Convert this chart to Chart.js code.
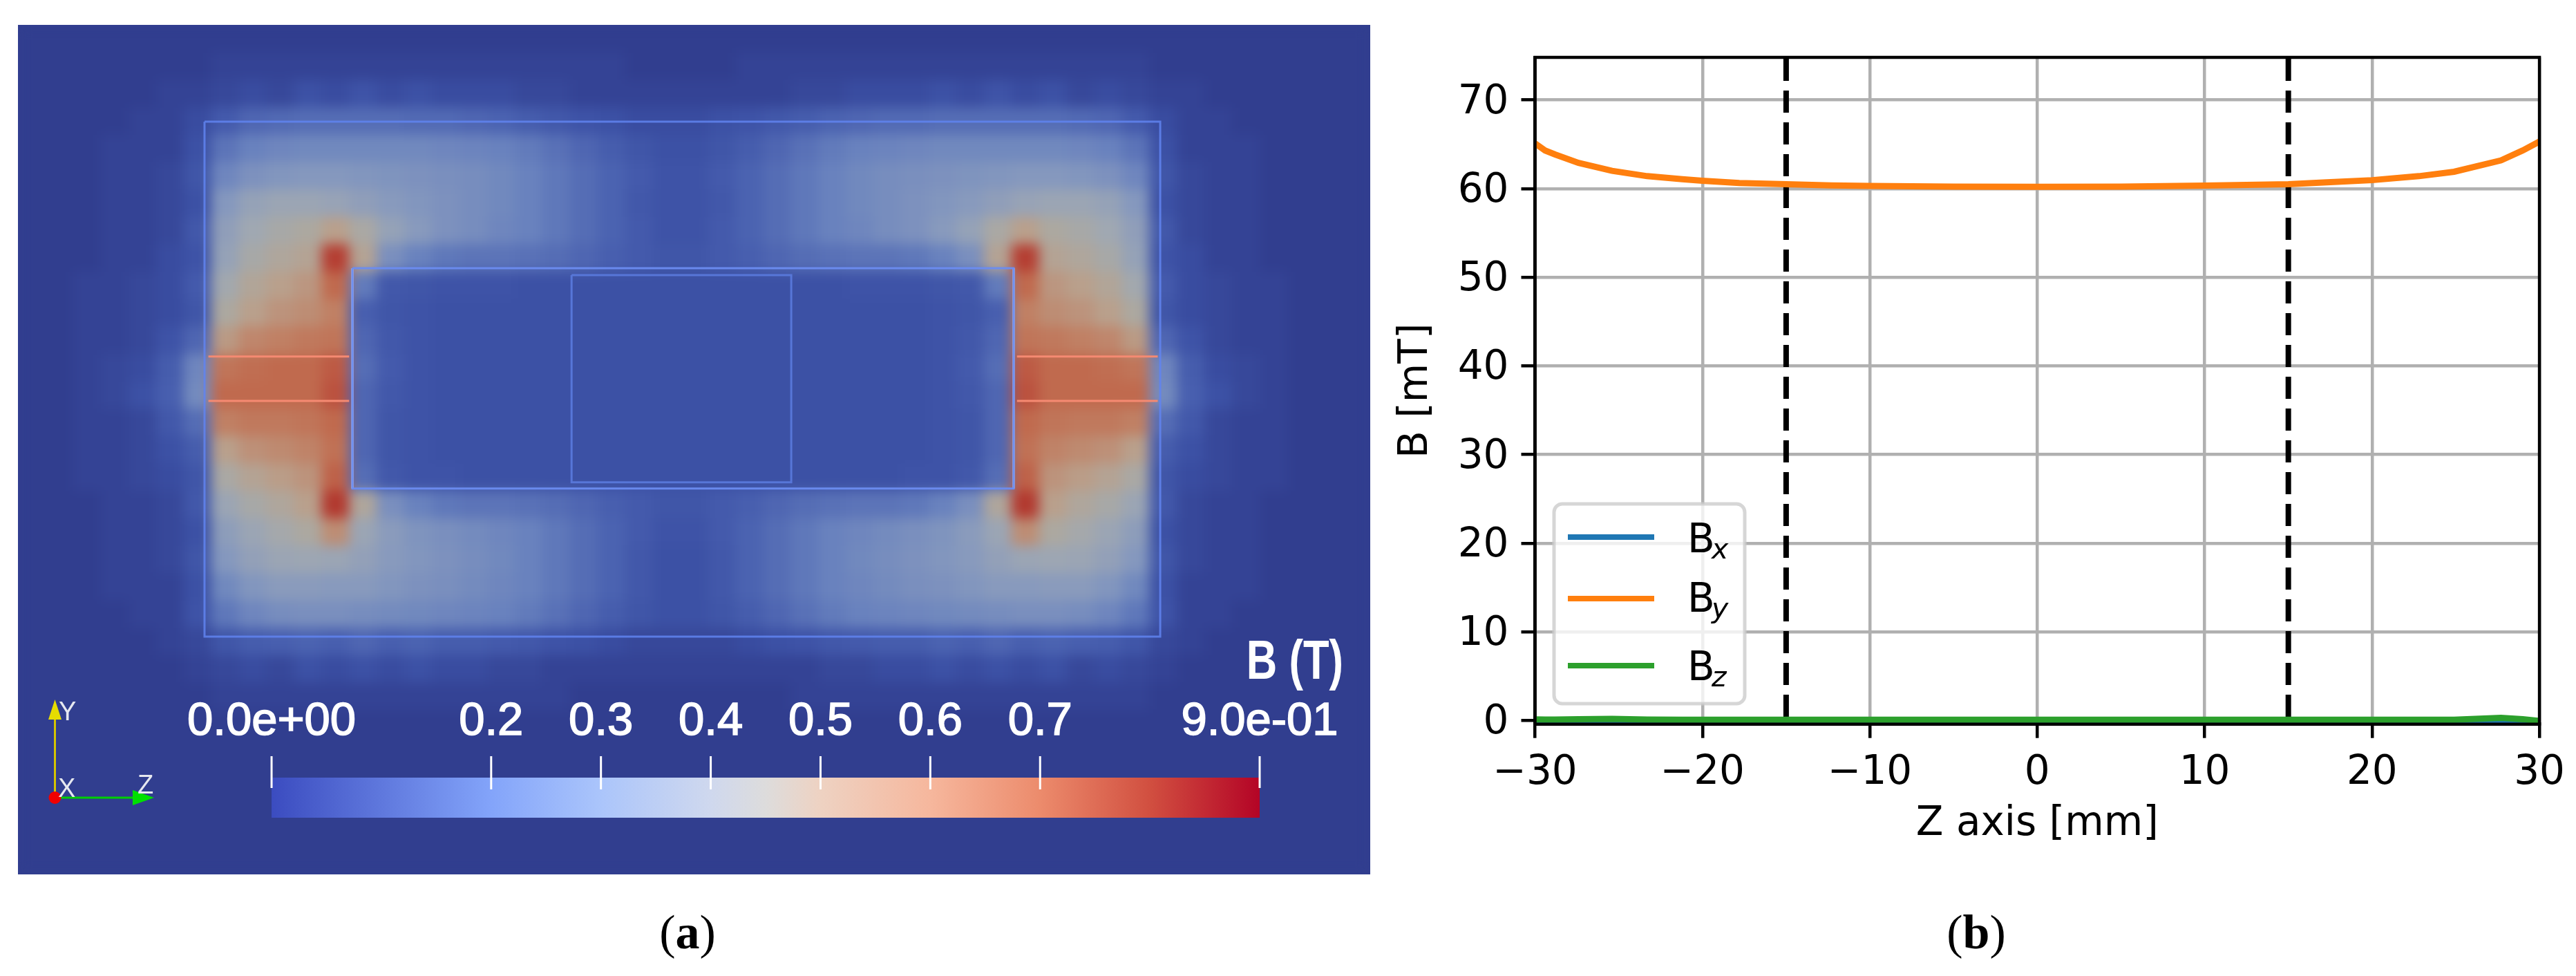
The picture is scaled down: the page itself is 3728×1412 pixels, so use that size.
<!DOCTYPE html>
<html>
<head>
<meta charset="utf-8">
<script src="https://cdn.jsdelivr.net/npm/chart.js@4"></script>
<style>
  html, body { margin: 0; padding: 0; background: #fff; width: 3728px; height: 1412px; overflow: hidden; }
  canvas { position: absolute; }
  #chartField { left: 26px; top: 36px; }
  #chartB { left: 2000px; top: 0; }
  .caption { position: absolute; top: 1309px; font: 70px "Liberation Serif", serif; color: #000; transform: translateX(-50%); }
  .caption b { font-weight: bold; }
</style>
</head>
<body>
<canvas id="chartField" width="1957" height="1229"></canvas>
<canvas id="chartB" width="1728" height="1240"></canvas>
<div class="caption" style="left:995px">(<b>a</b>)</div>
<div class="caption" style="left:2860px">(<b>b</b>)</div>

<script>
// --- panel (b) values ---
const zAxis = [-30, -29.4, -28.8, -27.4, -25.4, -23.3, -21.2, -20, -17.8, -15, -12.3, -10, -5, 0, 5, 10, 15, 17.3, 20, 22.8, 24.9, 27.7, 29, 30];
const byValues = [65.1, 64.3, 63.85, 62.9, 62.0, 61.4, 61.06, 60.88, 60.62, 60.5, 60.36, 60.3, 60.22, 60.2, 60.22, 60.34, 60.5, 60.7, 60.95, 61.4, 61.9, 63.18, 64.3, 65.3];
const bxValues = [-0.15, -0.15, -0.15, -0.15, -0.15, -0.15, -0.15, -0.15, -0.15, -0.15, -0.15, -0.15, -0.15, -0.15, -0.15, -0.15, -0.15, -0.15, -0.15, -0.15, -0.15, -0.15, -0.2, -0.25];
const bzValues = [0.12, 0.1, 0.1, 0.14, 0.18, 0.1, 0.08, 0.08, 0.08, 0.08, 0.08, 0.08, 0.08, 0.08, 0.08, 0.08, 0.08, 0.08, 0.08, 0.08, 0.08, 0.3, 0.15, -0.05];
const xTicks = [-30, -20, -10, 0, 10, 20, 30];
const yTicks = [0, 10, 20, 30, 40, 50, 60, 70];
const dashedZ = [-15, 15];
const seriesSubs = ['x', 'y', 'z'];
const seriesColors = ['#1f77b4', '#ff7f0e', '#2ca02c'];

// --- panel (a) values: B in hundredths of a tesla, one row per 40 px ---
const fieldValues = [
  [0,0,0,0,0,0,0,0,0,0,0,0,0,0,0,0,0,0,0,0,0,0,0,0, 0,0,0,0,0,0,0,0,0,0,0,0,0,0,0,0,0,0,0,0,0,0,0,0, 0],
  [0,0,0,0,0,0,0,1,1,1,1,1,1,1,1,1,1,1,1,1,1,1,0,0, 0,0,1,1,1,1,1,1,1,1,1,1,1,1,1,1,1,0,0,0,0,0,0,0, 0],
  [0,0,0,0,0,1,1,2,3,2,4,3,5,3,4,3,3,3,2,2,1,1,1,1, 1,1,1,1,2,2,3,3,3,4,3,5,3,4,2,3,2,1,1,0,0,0,0,0, 0],
  [0,0,0,0,1,1,3,8,12,13,14,14,14,14,13,13,12,11,9,7,5,4,3,3, 3,4,5,7,9,11,12,13,13,14,14,14,14,14,13,12,8,3,1,1,0,0,0,0, 0],
  [0,0,0,1,1,1,4,16,20,22,23,23,23,23,23,22,21,20,18,15,12,9,6,4, 4,6,9,12,15,18,20,21,22,23,23,23,23,23,22,20,16,4,1,1,1,0,0,0, 0],
  [0,0,0,1,1,2,6,22,27,29,30,30,29,28,27,26,25,23,20,17,14,11,8,5, 5,8,11,14,17,20,23,25,26,27,28,29,30,30,29,27,22,6,2,1,1,0,0,0, 0],
  [0,0,0,1,1,2,4,30,36,38,38,37,34,31,29,27,25,23,20,17,14,11,7,5, 5,7,11,14,17,20,23,25,27,29,31,34,37,38,38,36,30,4,2,1,1,0,0,0, 0],
  [0,0,0,1,1,2,7,34,40,43,45,50,44,36,31,27,25,22,20,17,14,11,8,5, 5,8,11,14,17,20,22,25,27,31,36,44,50,45,43,40,34,7,2,1,1,0,0,0, 0],
  [0,0,0,1,1,3,5,36,43,46,48,78,48,26,20,17,16,16,15,14,12,10,8,6, 6,8,10,12,14,15,16,16,17,20,26,48,78,48,46,43,36,5,3,1,1,0,0,0, 0],
  [0,0,1,1,2,3,8,41,47,50,53,66,18,7,6,5,5,5,4,4,4,4,4,4, 4,4,4,4,4,4,5,5,5,6,7,18,66,53,50,47,41,8,3,2,1,1,0,0, 0],
  [0,0,1,1,2,3,6,45,50,54,56,60,10,6,5,4,4,4,4,4,4,4,4,4, 4,4,4,4,4,4,4,4,4,5,6,10,60,56,54,50,45,6,3,2,1,1,0,0, 0],
  [0,0,1,1,2,5,12,52,58,60,62,63,12,7,5,4,4,4,4,4,4,4,4,4, 4,4,4,4,4,4,4,4,4,5,7,12,63,62,60,58,52,12,5,2,1,1,0,0, 0],
  [0,0,1,2,3,9,22,63,65,66,66,70,14,8,5,4,4,4,4,4,4,4,4,4, 4,4,4,4,4,4,4,4,4,5,8,14,70,66,66,65,63,22,9,3,2,1,0,0, 0],
  [0,0,1,2,4,10,24,66,66,66,66,72,12,7,5,4,4,4,4,4,4,4,4,4, 4,4,4,4,4,4,4,4,4,5,7,12,72,66,66,66,66,24,10,4,2,1,0,0, 0],
  [0,0,1,1,2,7,14,60,62,62,63,66,12,6,5,4,4,4,4,4,4,4,4,4, 4,4,4,4,4,4,4,4,4,5,6,12,66,63,62,62,60,14,7,2,1,1,0,0, 0],
  [0,0,1,1,2,4,9,50,55,57,59,64,12,6,5,4,4,4,4,4,4,4,4,4, 4,4,4,4,4,4,4,4,4,5,6,12,64,59,57,55,50,9,4,2,1,1,0,0, 0],
  [0,0,1,1,2,3,6,44,48,51,54,68,14,7,5,5,4,4,4,4,4,4,4,4, 4,4,4,4,4,4,4,4,5,5,7,14,68,54,51,48,44,6,3,2,1,1,0,0, 0],
  [0,0,0,1,1,2,7,38,43,46,50,80,46,26,20,17,16,16,15,14,12,10,8,6, 6,8,10,12,14,15,16,16,17,20,26,46,80,50,46,43,38,7,2,1,1,0,0,0, 0],
  [0,0,0,1,1,2,4,33,38,42,45,56,38,32,28,26,24,22,20,17,14,11,8,5, 5,8,11,14,17,20,22,24,26,28,32,38,56,45,42,38,33,4,2,1,1,0,0,0, 0],
  [0,0,0,1,1,2,6,30,35,38,39,38,35,31,29,27,25,23,20,17,14,11,7,4, 4,7,11,14,17,20,23,25,27,29,31,35,38,39,38,35,30,6,2,1,1,0,0,0, 0],
  [0,0,0,1,1,1,4,23,29,32,32,31,31,29,27,26,24,22,20,17,14,11,7,4, 4,7,11,14,17,20,22,24,26,27,29,31,31,32,32,29,23,4,1,1,1,0,0,0, 0],
  [0,0,0,0,1,1,5,17,22,25,26,26,25,24,23,22,21,20,18,15,12,9,6,4, 4,6,9,12,15,18,20,21,22,23,24,25,26,26,25,22,17,5,1,1,0,0,0,0, 0],
  [0,0,0,0,0,1,2,6,9,10,11,10,12,10,11,9,9,8,7,5,4,3,2,2, 2,2,3,4,5,7,8,9,9,11,10,12,10,11,10,9,6,2,1,0,0,0,0,0, 0],
  [0,0,0,0,0,0,1,2,3,2,4,3,4,3,4,3,3,2,2,1,1,1,1,1, 1,1,1,1,1,2,2,3,3,4,3,4,3,4,2,3,2,1,0,0,0,0,0,0, 0],
  [0,0,0,0,0,0,0,1,1,1,1,1,1,1,1,1,1,1,1,1,0,0,0,0, 0,0,0,0,1,1,1,1,1,1,1,1,1,1,1,1,1,0,0,0,0,0,0,0, 0],
  [0,0,0,0,0,0,0,0,0,0,0,0,0,0,0,0,0,0,0,0,0,0,0,0, 0,0,0,0,0,0,0,0,0,0,0,0,0,0,0,0,0,0,0,0,0,0,0,0, 0],
  [0,0,0,0,0,0,0,0,0,0,0,0,0,0,0,0,0,0,0,0,0,0,0,0, 0,0,0,0,0,0,0,0,0,0,0,0,0,0,0,0,0,0,0,0,0,0,0,0, 0],
  [0,0,0,0,0,0,0,0,0,0,0,0,0,0,0,0,0,0,0,0,0,0,0,0, 0,0,0,0,0,0,0,0,0,0,0,0,0,0,0,0,0,0,0,0,0,0,0,0, 0],
  [0,0,0,0,0,0,0,0,0,0,0,0,0,0,0,0,0,0,0,0,0,0,0,0, 0,0,0,0,0,0,0,0,0,0,0,0,0,0,0,0,0,0,0,0,0,0,0,0, 0],
  [0,0,0,0,0,0,0,0,0,0,0,0,0,0,0,0,0,0,0,0,0,0,0,0, 0,0,0,0,0,0,0,0,0,0,0,0,0,0,0,0,0,0,0,0,0,0,0,0, 0],
  [0,0,0,0,0,0,0,0,0,0,0,0,0,0,0,0,0,0,0,0,0,0,0,0, 0,0,0,0,0,0,0,0,0,0,0,0,0,0,0,0,0,0,0,0,0,0,0,0, 0]
];

// shaded colours the field takes on screen
const shadeValues = [0, 4, 10, 20, 30, 40, 45, 50, 60, 66, 75, 90];
const shadeColors = [[49,62,143],[60,81,165],[72,95,175],[105,130,190],[133,152,190],[160,168,178],[172,168,160],[185,160,140],[192,128,100],[192,106,78],[185,70,55],[165,30,30]];

// colour bar
const barStops = [0, 0.2, 0.3, 0.4, 0.45, 0.5, 0.6, 0.7, 0.8, 0.9];
const barColors = ['#3b4cc0', '#83a4fa', '#abc5fb', '#cfd8ee', '#dddcdc', '#eed2c2', '#f6b79d', '#ec8b6c', '#d14f40', '#b40426'];
const barTickValues = [0, 0.2, 0.3, 0.4, 0.5, 0.6, 0.7, 0.9];
const barTickLabels = ['0.0e+00', '0.2', '0.3', '0.4', '0.5', '0.6', '0.7', '9.0e-01'];

// magnet wireframe, in grid cells
const outerX = [6.76, 41.39, 41.39, 6.76, 6.76];
const outerY = [3.53, 3.53, 22.32, 22.32, 3.53];
const windowX = [12.12, 36.08, 36.08, 12.12, 12.12];
const windowY = [8.88, 8.88, 16.92, 16.92, 8.88];
const coreX = [20.06, 28.02, 28.02, 20.06, 20.06];
const coreY = [9.13, 9.13, 16.69, 16.69, 9.13];
const sliceLeftX = [6.9, 12.0];
const sliceRightX = [36.2, 41.3];
const sliceTopY = 12.1;
const sliceBottomY = 13.72;

const zip = (xs, ys) => xs.map((x, i) => ({ x: x, y: ys[i] }));

function shade(v) {
  let i = 0;
  while (i < shadeValues.length - 2 && v > shadeValues[i + 1]) i++;
  const t = (v - shadeValues[i]) / (shadeValues[i + 1] - shadeValues[i]);
  const a = shadeColors[i], b = shadeColors[i + 1];
  return 'rgb(' + [0, 1, 2].map(k => Math.round(a[k] + (b[k] - a[k]) * t)).join(',') + ')';
}

// --- GRÁFICO (a): field map ---
const fieldCells = [];
fieldValues.forEach((row, r) => row.forEach((v, c) => fieldCells.push({ x: c + 0.5, y: r + 0.5, v: v })));

// paints the cells at the positions Chart.js gave them, then softens them
const fieldPlugin = {
  id: 'fieldPlugin',
  beforeDraw(chart) {
    chart.ctx.fillStyle = shade(0);
    chart.ctx.fillRect(0, 0, chart.width, chart.height);
  },
  beforeDatasetDraw(chart, args) {
    if (args.index !== 0) return;
    const sx = chart.scales.x, sy = chart.scales.y;
    const w = sx.getPixelForValue(1) - sx.getPixelForValue(0);
    const h = sy.getPixelForValue(1) - sy.getPixelForValue(0);
    const layer = document.createElement('canvas');
    layer.width = chart.width;
    layer.height = chart.height;
    const lc = layer.getContext('2d');
    args.meta.data.forEach((el, i) => {
      lc.fillStyle = shade(fieldCells[i].v);
      lc.fillRect(el.x - w / 2, el.y - h / 2, w + 1, h + 1);
    });
    chart.ctx.save();
    chart.ctx.filter = 'blur(9px)';
    chart.ctx.drawImage(layer, 0, 0);
    chart.ctx.restore();
    return false;
  },
  afterDatasetsDraw(chart) {
    const ctx = chart.ctx, cb = chart.scales.cb;
    const ox = 26, oy = 36; // canvas sits at this spot on the page
    const x0 = cb.getPixelForValue(0), x1 = cb.getPixelForValue(0.9);

    const grad = ctx.createLinearGradient(x0, 0, x1, 0);
    barStops.forEach((v, i) => grad.addColorStop(v / 0.9, barColors[i]));
    ctx.fillStyle = grad;
    ctx.fillRect(x0, 1125 - oy, x1 - x0, 58);

    ctx.textAlign = 'center';
    ctx.textBaseline = 'alphabetic';
    ctx.fillStyle = '#fff';
    ctx.strokeStyle = '#fff';
    barTickValues.forEach((v, i) => {
      const x = cb.getPixelForValue(v);
      const end = (i === 0 || i === barTickValues.length - 1) ? 1140 : 1142;
      ctx.lineWidth = 3;
      ctx.beginPath();
      ctx.moveTo(x, 1094 - oy);
      ctx.lineTo(x, end - oy);
      ctx.stroke();
      ctx.font = '67px "Liberation Sans"';
      ctx.lineWidth = 1.6;
      ctx.fillText(barTickLabels[i], x, 1063 - oy);
      ctx.strokeText(barTickLabels[i], x, 1063 - oy);
    });

    // title is squeezed in the original
    ctx.save();
    ctx.translate(1874 - ox, 982 - oy);
    ctx.scale(0.77, 1);
    ctx.font = 'bold 80px "Liberation Sans"';
    ctx.fillText('B (T)', 0, 0);
    ctx.restore();

    // axes triad
    const tri = (a, b, c, col) => {
      ctx.fillStyle = col;
      ctx.beginPath();
      ctx.moveTo(a[0] - ox, a[1] - oy);
      ctx.lineTo(b[0] - ox, b[1] - oy);
      ctx.lineTo(c[0] - ox, c[1] - oy);
      ctx.fill();
    };
    ctx.lineWidth = 3;
    ctx.strokeStyle = '#d4c400';
    ctx.beginPath(); ctx.moveTo(79.5 - ox, 1154 - oy); ctx.lineTo(79.5 - ox, 1040 - oy); ctx.stroke();
    ctx.strokeStyle = '#00d000';
    ctx.beginPath(); ctx.moveTo(79.5 - ox, 1154 - oy); ctx.lineTo(195 - ox, 1154 - oy); ctx.stroke();
    tri([79.5, 1012], [70, 1041], [89, 1041], '#e6dc00');
    tri([223, 1154], [192, 1143], [192, 1165], '#00e000');
    ctx.fillStyle = '#f00000';
    ctx.beginPath(); ctx.arc(79.5 - ox, 1154 - oy, 9, 0, Math.PI * 2); ctx.fill();
    ctx.fillStyle = '#e6e8f0';
    ctx.font = '38px "Liberation Sans"';
    ctx.textAlign = 'left';
    ctx.fillText('Y', 85 - ox, 1042 - oy);
    ctx.fillText('X', 84 - ox, 1153 - oy);
    ctx.fillText('Z', 199 - ox, 1148 - oy);
  }
};

const wire = (label, xs, ys, color) => ({
  label: label, data: zip(xs, ys), showLine: true, pointRadius: 0,
  borderColor: color, borderWidth: 3, fill: false
});

new Chart(document.getElementById('chartField'), {
  type: 'scatter',
  data: {
    datasets: [
      { label: 'B (T)', data: fieldCells, pointRadius: 0, order: 10 },
      wire('outer', outerX, outerY, 'rgba(96,132,240,0.85)'),
      wire('window', windowX, windowY, 'rgba(108,140,240,0.95)'),
      wire('window left', [windowX[0], windowX[0]], [windowY[0], windowY[2]], '#c8d8fb'),
      wire('window right', [windowX[1], windowX[1]], [windowY[0], windowY[2]], '#c8d8fb'),
      wire('core', coreX, coreY, 'rgba(92,124,225,0.85)'),
      wire('slice', sliceLeftX, [sliceTopY, sliceTopY], '#f58a72'),
      wire('slice', sliceLeftX, [sliceBottomY, sliceBottomY], '#f58a72'),
      wire('slice', sliceRightX, [sliceTopY, sliceTopY], '#f58a72'),
      wire('slice', sliceRightX, [sliceBottomY, sliceBottomY], '#f58a72')
    ]
  },
  options: {
    responsive: false,
    animation: false,
    devicePixelRatio: 1,
    layout: { padding: 0 },
    plugins: { legend: { display: false }, tooltip: { enabled: false } },
    scales: {
      x: { type: 'linear', min: 0, max: 49, display: false },
      y: { type: 'linear', min: 0, max: 31, reverse: true, display: false },
      // colour bar axis: 0 T lands at the bar's left end, 0.9 T at its right end
      cb: { type: 'linear', axis: 'x', min: -0.231, max: 1.0007, display: false }
    }
  },
  plugins: [fieldPlugin]
});

// --- GRÁFICO (b): B along the Z axis ---
const framePlugin = {
  id: 'framePlugin',
  afterDatasetsDraw(chart) {
    const ctx = chart.ctx, a = chart.chartArea;
    const ox = 2000; // canvas offset on the page

    // legend, subscripts need two fonts so it is drawn by hand
    ctx.save();
    ctx.fillStyle = 'rgba(255,255,255,0.8)';
    ctx.strokeStyle = 'rgba(204,204,204,0.8)';
    ctx.lineWidth = 5;
    ctx.beginPath();
    ctx.roundRect(2249 - ox, 729, 276, 289, 12);
    ctx.fill();
    ctx.stroke();
    const rowY = [777, 866, 963];
    const textY = [799, 885, 984];
    seriesSubs.forEach((sub, i) => {
      ctx.strokeStyle = seriesColors[i];
      ctx.lineWidth = 8;
      ctx.beginPath();
      ctx.moveTo(2269 - ox, rowY[i]);
      ctx.lineTo(2394 - ox, rowY[i]);
      ctx.stroke();
      ctx.fillStyle = '#000';
      ctx.textAlign = 'left';
      ctx.textBaseline = 'alphabetic';
      ctx.font = '58px "DejaVu Sans"';
      ctx.fillText('B', 2442 - ox, textY[i]);
      ctx.font = 'italic 41px "DejaVu Sans"';
      ctx.fillText(sub, 2477 - ox, textY[i] + 9);
    });
    ctx.restore();

    ctx.save();
    ctx.strokeStyle = '#000';
    ctx.lineWidth = 4.5;
    ctx.strokeRect(a.left, a.top, a.right - a.left, a.bottom - a.top);
    ctx.restore();
  }
};

const dejavu = { family: '"DejaVu Sans"', size: 58 };
const dashed = z => ({
  label: 'limit ' + z,
  data: [{ x: z, y: -0.42 }, { x: z, y: 74.8 }],
  showLine: true, pointRadius: 0, borderColor: '#000', borderWidth: 8,
  borderDash: [32, 14], borderDashOffset: 35.3, order: 5
});
const series = (i, values) => ({
  label: 'B' + seriesSubs[i],
  data: zip(zAxis, values),
  showLine: true, pointRadius: 0, borderColor: seriesColors[i], borderWidth: 9, order: 3 - i
});

new Chart(document.getElementById('chartB'), {
  type: 'scatter',
  data: {
    datasets: [dashed(dashedZ[0]), dashed(dashedZ[1]), series(0, bxValues), series(1, byValues), series(2, bzValues)]
  },
  options: {
    responsive: false,
    animation: false,
    devicePixelRatio: 1,
    layout: { padding: { top: 83, right: 51.5, left: 0, bottom: 0 } },
    plugins: { legend: { display: false }, tooltip: { enabled: false } },
    scales: {
      x: {
        type: 'linear', min: -30, max: 30,
        afterBuildTicks: s => { s.ticks = xTicks.map(v => ({ value: v })); },
        afterFit: s => { s.height = 192.3; },
        grid: { color: '#b0b0b0', lineWidth: 4.5, tickColor: '#000', tickWidth: 4.5, tickLength: 20 },
        border: { color: '#000', width: 4.5 },
        ticks: {
          color: '#000', font: dejavu, padding: 16, maxRotation: 0, autoSkip: false,
          callback: v => String(v).replace('-', '\u2212')
        },
        title: { display: true, text: 'Z axis [mm]', color: '#000', font: dejavu, padding: { top: 0, bottom: 12 } }
      },
      y: {
        type: 'linear', min: -0.42, max: 74.8,
        afterBuildTicks: s => { s.ticks = yTicks.map(v => ({ value: v })); },
        afterFit: s => { s.width = 221.5; },
        grid: { color: '#b0b0b0', lineWidth: 4.5, tickColor: '#000', tickWidth: 4.5, tickLength: 20 },
        border: { color: '#000', width: 4.5 },
        ticks: { color: '#000', font: dejavu, padding: 18, labelOffset: 4, autoSkip: false, callback: v => String(v) },
        title: { display: true, text: 'B [mT]', color: '#000', font: dejavu, padding: { top: 15, bottom: 0 } }
      }
    }
  },
  plugins: [framePlugin]
});
</script>
</body>
</html>
